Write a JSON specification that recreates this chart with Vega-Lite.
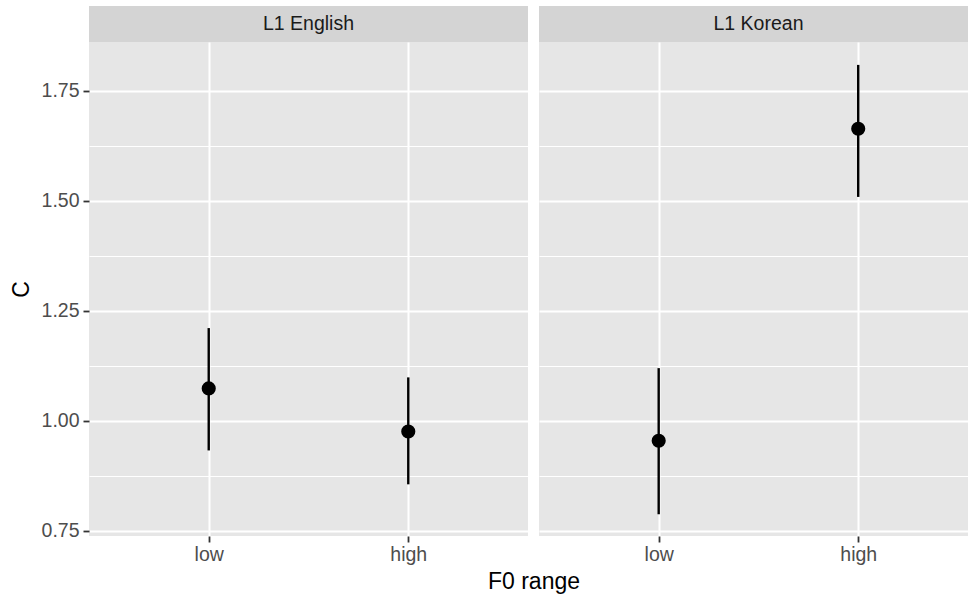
{
  "$schema": "https://vega.github.io/schema/vega-lite/v6.json",
  "background": "white",
  "padding": {"left": 10, "top": 6, "right": 0, "bottom": 4},
  "datasets": {
    "cells": [
      {"panel": "L1 English", "F0": "low", "C": 1.074, "lo": 0.933, "hi": 1.211},
      {"panel": "L1 English", "F0": "high", "C": 0.976, "lo": 0.856, "hi": 1.099},
      {"panel": "L1 Korean", "F0": "low", "C": 0.955, "lo": 0.788, "hi": 1.12},
      {"panel": "L1 Korean", "F0": "high", "C": 1.664, "lo": 1.509, "hi": 1.809}
    ],
    "strips": [{"panel": "L1 English"}, {"panel": "L1 Korean"}]
  },
  "config": {
    "font": "Liberation Sans",
    "view": {"stroke": null}
  },
  "spacing": 0,
  "vconcat": [
    {
      "spacing": 11,
      "hconcat": [
        {
          "width": 439, "height": 36,
          "data": {"name": "strips"},
          "transform": [{"filter": "datum.panel === 'L1 English'"}],
          "view": {"fill": "#D4D4D4", "stroke": null},
          "mark": {"type": "text", "fontSize": 19.5, "color": "#1A1A1A", "baseline": "middle", "align": "center"},
          "encoding": {"text": {"field": "panel", "type": "nominal"}}
        },
        {
          "width": 429, "height": 36,
          "data": {"name": "strips"},
          "transform": [{"filter": "datum.panel === 'L1 Korean'"}],
          "view": {"fill": "#D4D4D4", "stroke": null},
          "mark": {"type": "text", "fontSize": 19.5, "color": "#1A1A1A", "baseline": "middle", "align": "center", "dx": 5},
          "encoding": {"text": {"field": "panel", "type": "nominal"}}
        }
      ]
    },
    {
      "spacing": 11,
      "bounds": "flush",
      "resolve": {"scale": {"x": "independent", "y": "independent"}},
      "hconcat": [
        {
          "width": 439, "height": 494,
          "data": {"name": "cells"},
          "transform": [{"filter": "datum.panel === 'L1 English'"}],
          "view": {"fill": "#E6E6E6", "stroke": null},
          "encoding": {
            "x": {
              "field": "F0", "type": "nominal",
              "scale": {"type": "point", "domain": ["low", "high"], "padding": 0.6},
              "axis": {
                "title": "F0 range", "titleX": 444.5, "titleFontSize": 23, "titleFontWeight": "normal", "titleColor": "black", "titlePadding": 7,
                "labelAngle": 0, "domain": false, "tickSize": 6, "tickWidth": 1.8, "tickColor": "#333333",
                "labelColor": "#4D4D4D", "labelFontSize": 19.5, "labelPadding": 3,
                "grid": true, "gridColor": "white", "gridWidth": 2, "gridOpacity": 1
              }
            }
          },
          "layer": [
            {
              "mark": {"type": "rule", "strokeWidth": 2.4, "color": "black"},
              "encoding": {
                "y": {
                  "field": "lo", "type": "quantitative",
                  "scale": {"domain": [0.7386, 1.861], "nice": false, "zero": false},
                  "axis": {
                    "title": "C", "titleFontSize": 23, "titleFontWeight": "normal", "titleColor": "black", "titlePadding": 8,
                    "values": [0.75, 0.875, 1, 1.125, 1.25, 1.375, 1.5, 1.625, 1.75],
                    "labelExpr": "abs(datum.value*4-round(datum.value*4))<0.001 ? format(datum.value, '.2f') : ''",
                    "domain": false, "tickSize": 6, "tickWidth": 1.8, "tickColor": "#333333",
                    "tickOpacity": {"condition": {"test": "abs(datum.value*4-round(datum.value*4))<0.001", "value": 1}, "value": 0},
                    "labelColor": "#4D4D4D", "labelFontSize": 19.5, "labelPadding": 4,
                    "grid": true, "gridColor": "white", "gridOpacity": 1,
                    "gridWidth": {"condition": {"test": "abs(datum.value*4-round(datum.value*4))<0.001", "value": 2}, "value": 1}
                  }
                },
                "y2": {"field": "hi"}
              }
            },
            {
              "mark": {"type": "point", "filled": true, "size": 200, "color": "black", "opacity": 1},
              "encoding": {"y": {"field": "C", "type": "quantitative"}}
            }
          ]
        },
        {
          "width": 429, "height": 494,
          "data": {"name": "cells"},
          "transform": [{"filter": "datum.panel === 'L1 Korean'"}],
          "view": {"fill": "#E6E6E6", "stroke": null},
          "encoding": {
            "x": {
              "field": "F0", "type": "nominal",
              "scale": {"type": "point", "domain": ["low", "high"], "padding": 0.575, "align": 0.5216},
              "axis": {
                "title": null,
                "labelAngle": 0, "domain": false, "tickSize": 6, "tickWidth": 1.8, "tickColor": "#333333",
                "labelColor": "#4D4D4D", "labelFontSize": 19.5, "labelPadding": 3,
                "grid": true, "gridColor": "white", "gridWidth": 2, "gridOpacity": 1
              }
            }
          },
          "layer": [
            {
              "mark": {"type": "rule", "strokeWidth": 2.4, "color": "black"},
              "encoding": {
                "y": {
                  "field": "lo", "type": "quantitative",
                  "scale": {"domain": [0.7386, 1.861], "nice": false, "zero": false},
                  "axis": {
                    "title": null, "labels": false, "ticks": false, "domain": false,
                    "values": [0.75, 0.875, 1, 1.125, 1.25, 1.375, 1.5, 1.625, 1.75],
                    "grid": true, "gridColor": "white", "gridOpacity": 1,
                    "gridWidth": {"condition": {"test": "abs(datum.value*4-round(datum.value*4))<0.001", "value": 2}, "value": 1}
                  }
                },
                "y2": {"field": "hi"}
              }
            },
            {
              "mark": {"type": "point", "filled": true, "size": 200, "color": "black", "opacity": 1},
              "encoding": {"y": {"field": "C", "type": "quantitative"}}
            }
          ]
        }
      ]
    }
  ]
}
